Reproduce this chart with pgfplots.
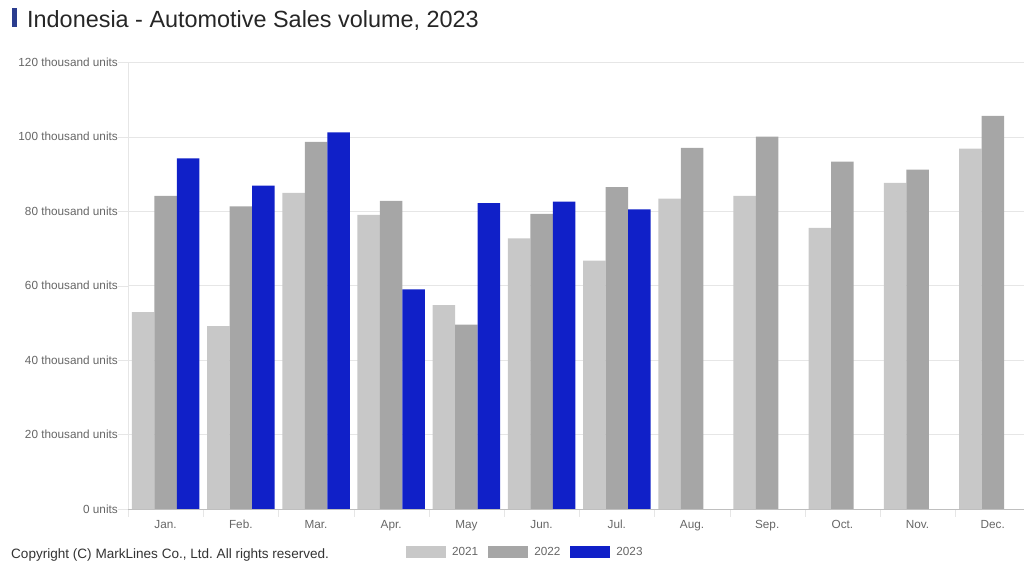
\documentclass[border=0pt]{standalone}
\usepackage{fontspec}
\setmainfont{Liberation Sans}
\usepackage{pgfplots}
\pgfplotsset{compat=1.18}
\definecolor{c21}{HTML}{C8C8C8}
\definecolor{c22}{HTML}{A6A6A6}
\definecolor{c23}{HTML}{1020C8}
\definecolor{titlebar}{HTML}{2B3D8F}
\definecolor{gridc}{HTML}{E6E6E6}
\definecolor{labc}{HTML}{666666}
\frenchspacing
\begin{document}
\begin{tikzpicture}
\path[use as bounding box] (0bp,0bp) rectangle (1024bp,564bp);
\fill[titlebar] (12bp,537bp) rectangle (16.7bp,556bp);
\node[anchor=base west, inner sep=0pt, font=\fontsize{23.5}{26}\selectfont, text=black!85] at (27bp,536.3bp) {Indonesia - Automotive Sales volume, 2023};
\node[anchor=base west, inner sep=0pt, font=\fontsize{13.6}{15}\selectfont, text=black!80] at (11bp,6bp) {Copyright (C) MarkLines Co., Ltd. All rights reserved.};
\begin{scope}
\clip (0bp,0bp) rectangle (1024bp,564bp);
\begin{axis}[
  at={(128bp,55bp)}, anchor=south west,
  scale only axis, width=902.4bp, height=446.7bp,
  xmin=-0.5, xmax=11.5, ymin=0, ymax=120,
  ybar=0bp, bar width=22.5bp,
  axis x line*=bottom, axis y line*=left,
  x axis line style={draw=black!25,-},
  y axis line style={draw=gridc,-},
  xtick={0,...,11},
  xticklabels={Jan.,Feb.,Mar.,Apr.,May,Jun.,Jul.,Aug.,Sep.,Oct.,Nov.,Dec.},
  major x tick style={draw=none},
  minor xtick={-0.5,0.5,...,11.5},
  minor x tick style={draw=gridc},
  minor tick length=8bp,
  tick align=outside,
  ytick={0,20,...,120},
  yticklabels={0 units,20 thousand units,40 thousand units,60 thousand units,80 thousand units,100 thousand units,120 thousand units},
  major y tick style={draw=gridc},
  major tick length=10bp,
  ymajorgrids, grid style={draw=gridc},
  xticklabel style={anchor=base, yshift=-9bp, font=\fontsize{11.8}{13}\selectfont, text=labc, inner sep=0pt},
  yticklabel style={anchor=east, font=\fontsize{11.8}{13}\selectfont, text=labc, inner sep=0pt},
  legend columns=3,
  legend style={draw=none, fill=none, at={(0.308,-0.096)}, anchor=west, inner sep=0pt,
    font=\fontsize{11.8}{13}\selectfont, text=labc,
    /tikz/every odd column/.append style={column sep=4bp},
    /tikz/every even column/.append style={column sep=8bp}},
  legend image code/.code={\fill[#1] (0bp,-6bp) rectangle (40bp,6bp);},
]
\addplot[fill=c21, draw=none] coordinates {(0,52.9) (1,49.1) (2,84.9) (3,79.0) (4,54.8) (5,72.7) (6,66.7) (7,83.4) (8,84.1) (9,75.5) (10,87.6) (11,96.8)};
\addplot[fill=c22, draw=none] coordinates {(0,84.1) (1,81.3) (2,98.6) (3,82.8) (4,49.5) (5,79.3) (6,86.5) (7,97.0) (8,100.0) (9,93.3) (10,91.2) (11,105.6)};
\addplot[fill=c23, draw=none] coordinates {(0,94.2) (1,86.9) (2,101.2) (3,59.0) (4,82.2) (5,82.6) (6,80.5)};
\legend{2021,2022,2023}
\end{axis}
\end{scope}
\end{tikzpicture}
\end{document}
